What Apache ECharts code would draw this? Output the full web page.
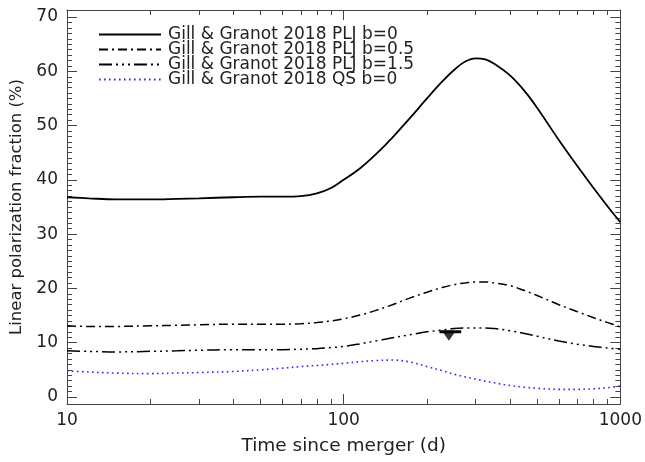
<!DOCTYPE html>
<html>
<head>
<meta charset="utf-8">
<script src="https://cdn.jsdelivr.net/npm/echarts@6/dist/echarts.min.js"></script>
<style>
html,body{margin:0;padding:0;background:#fff;}
#chart{width:645px;height:462px;}
</style>
</head>
<body>
<div id="chart"></div>
<script>
// ---- data ----
const times = [10, 12, 15, 20, 25, 30, 40, 50, 60, 70, 80, 90, 100, 115, 130, 150, 175, 200, 225, 250, 275, 300, 325, 350, 400, 450, 500, 600, 700, 800, 900, 1000];
const pljB0 = [36.8, 36.6, 36.4, 36.4, 36.5, 36.6, 36.8, 36.9, 36.9, 37.0, 37.5, 38.5, 40.0, 42.2, 44.6, 47.8, 51.6, 55.0, 57.9, 60.2, 61.8, 62.4, 62.2, 61.4, 59.2, 56.4, 53.3, 47.3, 42.5, 38.5, 35.1, 32.2];
const pljB05 = [13.1, 13.0, 13.0, 13.1, 13.2, 13.3, 13.4, 13.4, 13.4, 13.5, 13.7, 14.0, 14.4, 15.1, 15.9, 17.0, 18.3, 19.3, 20.1, 20.7, 21.0, 21.2, 21.2, 21.0, 20.5, 19.6, 18.7, 17.0, 15.7, 14.6, 13.7, 12.9];
const pljB15 = [8.5, 8.4, 8.3, 8.4, 8.5, 8.6, 8.7, 8.7, 8.7, 8.8, 8.9, 9.1, 9.3, 9.8, 10.3, 10.9, 11.5, 12.0, 12.3, 12.6, 12.7, 12.7, 12.7, 12.6, 12.2, 11.7, 11.2, 10.3, 9.7, 9.3, 9.0, 8.8];
const qsB0 = [4.8, 4.6, 4.4, 4.3, 4.4, 4.5, 4.7, 5.0, 5.3, 5.6, 5.8, 6.0, 6.2, 6.5, 6.7, 6.8, 6.4, 5.6, 4.9, 4.2, 3.7, 3.3, 2.9, 2.6, 2.1, 1.8, 1.6, 1.4, 1.4, 1.5, 1.7, 2.0];
const limitPoint = [240, 12.0];
const limitRange = [222, 266];
const seriesNames = ['Gill & Granot 2018 PLJ b=0', 'Gill & Granot 2018 PLJ b=0.5', 'Gill & Granot 2018 PLJ b=1.5', 'Gill & Granot 2018 QS b=0'];
const yMajorTicks = [0, 10, 20, 30, 40, 50, 60, 70];
const yMinorTicks = [];
for (let v = 0; v <= 70; v++) { if (v % 10 !== 0) yMinorTicks.push(v); }
const xMinorTicks = [20, 30, 40, 50, 60, 70, 80, 90, 200, 300, 400, 500, 600, 700, 800, 900];

// ---- chart ----
const FONT = 'DejaVu Sans';
const TXT = '#222';
const AX = '#444';
const chart = echarts.init(document.getElementById('chart'), null, {renderer: 'canvas'});
const pair = (vals) => times.map((t, i) => [t, vals[i]]);

const majorTickX = (pos, labels) => ({
  type: 'log', logBase: 10, min: 10, max: 1000, interval: 1, position: pos, gridIndex: 0,
  axisLine: {show: true, onZero: false, lineStyle: {color: AX, width: 1}},
  axisTick: {show: true, inside: true, length: 10, lineStyle: {color: AX}},
  axisLabel: {show: labels, fontFamily: FONT, fontSize: 17, color: TXT, margin: 8, formatter: (v) => String(v)},
  splitLine: {show: false},
  name: labels ? 'Time since merger (d)' : '',
  nameLocation: 'middle', nameGap: 33,
  nameTextStyle: {fontFamily: FONT, fontSize: 18.5, color: TXT}
});
const minorTickX = (pos) => ({
  type: 'value', min: 1, max: 3, position: pos, gridIndex: 0,
  axisLine: {show: false, onZero: false},
  axisTick: {show: true, inside: true, length: 5, customValues: xMinorTicks.map(Math.log10), lineStyle: {color: AX}},
  axisLabel: {show: false},
  splitLine: {show: false}
});
const majorTickY = (pos, labels) => ({
  type: 'value', min: -1.3, max: 71.3, position: pos, gridIndex: 0,
  axisLine: {show: true, onZero: false, lineStyle: {color: AX, width: 1}},
  axisTick: {show: true, inside: true, length: 10, customValues: yMajorTicks, lineStyle: {color: AX}},
  axisLabel: {show: labels, customValues: yMajorTicks, fontFamily: FONT, fontSize: 17, color: TXT, margin: 9},
  splitLine: {show: false},
  name: labels ? 'Linear polarization fraction (%)' : '',
  nameLocation: 'middle', nameGap: 34, nameRotate: 90,
  nameTextStyle: {fontFamily: FONT, fontSize: 16.5, color: TXT}
});
const minorTickY = (pos) => ({
  type: 'value', min: -1.3, max: 71.3, position: pos, gridIndex: 0,
  axisLine: {show: false, onZero: false},
  axisTick: {show: true, inside: true, length: 5, customValues: yMinorTicks, lineStyle: {color: AX}},
  axisLabel: {show: false},
  splitLine: {show: false}
});

const lineSeries = (name, vals, style) => ({
  name: name, type: 'line', xAxisIndex: 0, yAxisIndex: 0,
  data: pair(vals), showSymbol: false, symbol: 'none', smooth: 0.35,
  lineStyle: style, itemStyle: {color: style.color}, silent: true, z: 3
});

chart.setOption({
  animation: false,
  backgroundColor: '#fff',
  grid: {left: 67, right: 24, top: 10, bottom: 58, containLabel: false},
  xAxis: [majorTickX('bottom', true), majorTickX('top', false), minorTickX('bottom'), minorTickX('top')],
  yAxis: [majorTickY('left', true), majorTickY('right', false), minorTickY('left'), minorTickY('right')],
  legend: {
    data: seriesNames, orient: 'vertical', left: 93, top: 21,
    itemWidth: 62, itemHeight: 10, itemGap: -2, itemStyle: {opacity: 0},
    textStyle: {fontFamily: FONT, fontSize: 17, color: TXT, padding: [0, 0, 0, 2]},
    selectedMode: false
  },
  series: [
    lineSeries(seriesNames[0], pljB0, {color: '#000', width: 1.8, type: 'solid'}),
    lineSeries(seriesNames[1], pljB05, {color: '#000', width: 1.5, type: [9, 4, 2, 4]}),
    lineSeries(seriesNames[2], pljB15, {color: '#000', width: 1.5, type: [13, 4, 2, 4, 2, 4, 2, 4]}),
    lineSeries(seriesNames[3], qsB0, {color: '#2b2bf0', width: 1.6, type: [1.6, 3.4]}),
    {
      name: 'range', type: 'line', xAxisIndex: 0, yAxisIndex: 0,
      data: [[limitRange[0], limitPoint[1]], [limitRange[1], limitPoint[1]]],
      symbol: 'none', lineStyle: {color: '#000', width: 3}, silent: true, z: 4
    },
    {
      name: 'limit', type: 'scatter', xAxisIndex: 0, yAxisIndex: 0,
      data: [limitPoint], symbol: 'triangle', symbolRotate: 180, symbolSize: [14, 10],
      symbolOffset: [0, 4], itemStyle: {color: '#000'}, silent: true, z: 5
    }
  ]
});
</script>
</body>
</html>
